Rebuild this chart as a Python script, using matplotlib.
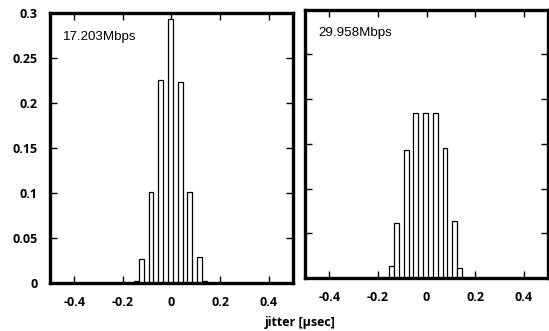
import matplotlib.pyplot as plt
import numpy as np

# bin centres (usec) and relative frequency
centers = [-0.14, -0.12, -0.08, -0.04, 0.0, 0.04, 0.08, 0.12, 0.14]
freq_17 = [0.002, 0.027, 0.101, 0.226, 0.293, 0.223, 0.101, 0.029, 0.002]
freq_30 = [0.013, 0.062, 0.143, 0.184, 0.185, 0.185, 0.145, 0.064, 0.011]
labels = ['17.203Mbps', '29.958Mbps']

plt.rcParams['font.family'] = ['Open Sans', 'DejaVu Sans']

fig = plt.figure(figsize=(5.49, 3.31), dpi=100)
ax1 = fig.add_axes([0.091, 0.145, 0.4426, 0.8157])
ax2 = fig.add_axes([0.5556, 0.160, 0.4426, 0.811])

for ax, f, lab in zip([ax1, ax2], [freq_17, freq_30], labels):
    ax.bar(np.array(centers) - 0.004, f, width=0.02, facecolor='white',
           edgecolor='black', linewidth=0.9, zorder=2)
    ax.set_xlim(-0.5, 0.5)
    ax.set_ylim(0, 0.3)
    ax.set_xticks([-0.4, -0.2, 0, 0.2, 0.4])
    ax.set_yticks(np.arange(0, 0.31, 0.05))
    ax.tick_params(direction='in', top=True, right=True, length=5,
                   width=1.0, labelsize=9, pad=9)
    for t in ax.get_xticklabels() + ax.get_yticklabels():
        t.set_fontweight('bold')
    for s in ax.spines.values():
        s.set_linewidth(2.4)
    ax.text(0.055, 0.9, lab, transform=ax.transAxes, fontsize=9.6,
            family=['Liberation Sans', 'DejaVu Sans'])

ax1.set_xticklabels(['-0.4', '-0.2', '0', '0.2', '0.4'])
ax1.set_yticklabels(['0', '0.05', '0.1', '0.15', '0.2', '0.25', '0.3'])
ax2.set_xticklabels(['-0.4', '-0.2', '0', '0.2', '0.4'])
ax2.set_yticklabels([])

fig.text(0.546, 0.005, 'jitter [\u00b5sec]', ha='center', va='bottom',
         fontsize=9, fontweight='bold')

fig.savefig('out.png', dpi=100)
